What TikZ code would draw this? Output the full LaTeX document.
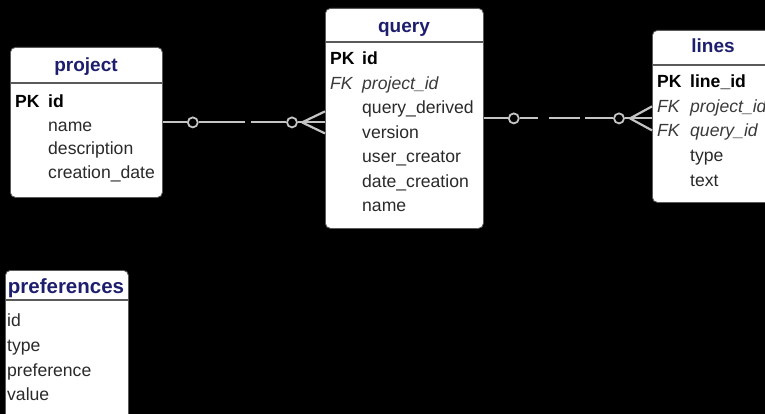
\documentclass[tikz,border=0pt]{standalone}
\usepackage{fontspec}
\setmainfont{Liberation Sans}
\definecolor{navy}{HTML}{1E1E6E}
\definecolor{txt}{HTML}{2A2A2A}
\definecolor{fkc}{HTML}{3A3A3A}
\definecolor{lgray}{HTML}{C4C4C4}
\definecolor{edge}{HTML}{5A5A5A}
\begin{document}
\begin{tikzpicture}[x=1pt,y=-1pt,
  tbl/.style={draw=edge, line width=0.8pt, fill=white, rounded corners=5pt, inner sep=0pt, anchor=north west},
  hdr/.style={draw=edge, line width=1.2pt},
  ttl/.style={font=\fontsize{19}{19}\selectfont\bfseries, text=navy, anchor=base, inner sep=0pt},
  fld/.style={font=\fontsize{17.6}{17.6}\selectfont, text=txt, anchor=base west, inner sep=0pt},
  key/.style={fld, font=\fontsize{17.6}{17.6}\selectfont\bfseries, text=black},
  fk/.style={fld, font=\fontsize{17.6}{17.6}\selectfont\itshape, text=fkc},
  rel/.style={draw=lgray, line width=2.2pt},
  ring/.style={circle, draw=lgray, line width=1.8pt, fill=black, minimum size=10pt, inner sep=0pt}
]
\fill[black] (0,0) rectangle (765,414);
\useasboundingbox (0,0) rectangle (765,414);
\clip (0,0) rectangle (765,414);

% ---------- tables ----------
\node[tbl, minimum width=152pt, minimum height=150pt] (project) at (10,47) {};
\node[tbl, minimum width=158pt, minimum height=220pt] (query) at (325,8) {};
\node[tbl, minimum width=123pt, minimum height=172pt] (lines) at (652,30) {};
\node[tbl, minimum width=123pt, minimum height=170pt] (prefs) at (5,270) {};

% header dividers
\coordinate (hp) at (0,83);
\coordinate (hq) at (0,42);
\coordinate (hl) at (0,65);
\coordinate (hf) at (0,300);
\draw[hdr] (project.west |- hp) -- (project.east |- hp);
\draw[hdr] (query.west |- hq) -- (query.east |- hq);
\draw[hdr] (lines.west |- hl) -- (lines.east |- hl);
\draw[hdr] (prefs.west |- hf) -- (prefs.east |- hf);

% ---------- project ----------
\node[ttl] (p-t) at (86,72) {project};
\node[key] (p-pk) at (15,108) {PK};
\node[key] (p-1) at (48,108) {id};
\node[fld] (p-2) at (48,131.5) {name};
\node[fld] (p-3) at (48,155) {description};
\node[fld] (p-4) at (48,178.5) {creation\_date};

% ---------- query ----------
\node[ttl] (q-t) at (404,33) {query};
\node[key] (q-pk) at (330,65) {PK};
\node[key] (q-1) at (362,65) {id};
\node[fk] (q-fk) at (330,89.4) {FK};
\node[fk] (q-2) at (362,89.4) {project\_id};
\node[fld] (q-3) at (362,113.8) {query\_derived};
\node[fld] (q-4) at (362,138.2) {version};
\node[fld] (q-5) at (362,162.6) {user\_creator};
\node[fld] (q-6) at (362,187) {date\_creation};
\node[fld] (q-7) at (362,211.4) {name};

% ---------- lines ----------
\node[ttl] (l-t) at (713,53) {lines};
\node[key] (l-pk) at (657,88) {PK};
\node[key] (l-1) at (690,88) {line\_id};
\node[fk] (l-fk1) at (657,112.5) {FK};
\node[fk] (l-2) at (690,112.5) {project\_id};
\node[fk] (l-fk2) at (657,137) {FK};
\node[fk] (l-3) at (690,137) {query\_id};
\node[fld] (l-4) at (690,161.5) {type};
\node[fld] (l-5) at (690,186) {text};

% ---------- preferences ----------
\node[ttl, font=\fontsize{20.5}{20.5}\selectfont\bfseries] (f-t) at (66,293) {preferences};
\node[fld] (f-1) at (7,326) {id};
\node[fld] (f-2) at (7,351) {type};
\node[fld] (f-3) at (7,376) {preference};
\node[fld] (f-4) at (7,400) {value};

% ---------- relation project -> query ----------
\node[ring] (r1) at ([xshift=30pt]project.east) {};
\coordinate (pq) at (query.west |- project.east);
\node[ring] (r2) at ([xshift=-33pt]pq) {};
\coordinate (cf1) at ([xshift=-23pt]pq);
\draw[rel] (project.east) -- (r1.west);
\draw[rel] (r1.east) -- ++(46,0);
\draw[rel] ([xshift=-35pt]r2.west) -- (r2.west);
\draw[rel] (r2.east) -- (cf1);
\draw[rel] (cf1) -- (pq);
\draw[rel] (cf1) -- ([yshift=11pt]pq);
\draw[rel] (cf1) -- ([yshift=-11pt]pq);

% ---------- relation query -> lines ----------
\node[ring] (r3) at ([xshift=30pt]query.east) {};
\coordinate (ql) at (lines.west |- query.east);
\node[ring] (r4) at ([xshift=-33pt]ql) {};
\coordinate (cf2) at ([xshift=-22pt]ql);
\draw[rel] (query.east) -- (r3.west);
\draw[rel] (r3.east) -- ++(18,0);
\draw[rel] ([xshift=29pt]r3.east) -- ++(31,0);
\draw[rel] ([xshift=-28pt]r4.west) -- (r4.west);
\draw[rel] (r4.east) -- (cf2);
\draw[rel] (cf2) -- (ql);
\draw[rel] (cf2) -- ([yshift=12pt]ql);
\draw[rel] (cf2) -- ([yshift=-12pt]ql);
\end{tikzpicture}
\end{document}
